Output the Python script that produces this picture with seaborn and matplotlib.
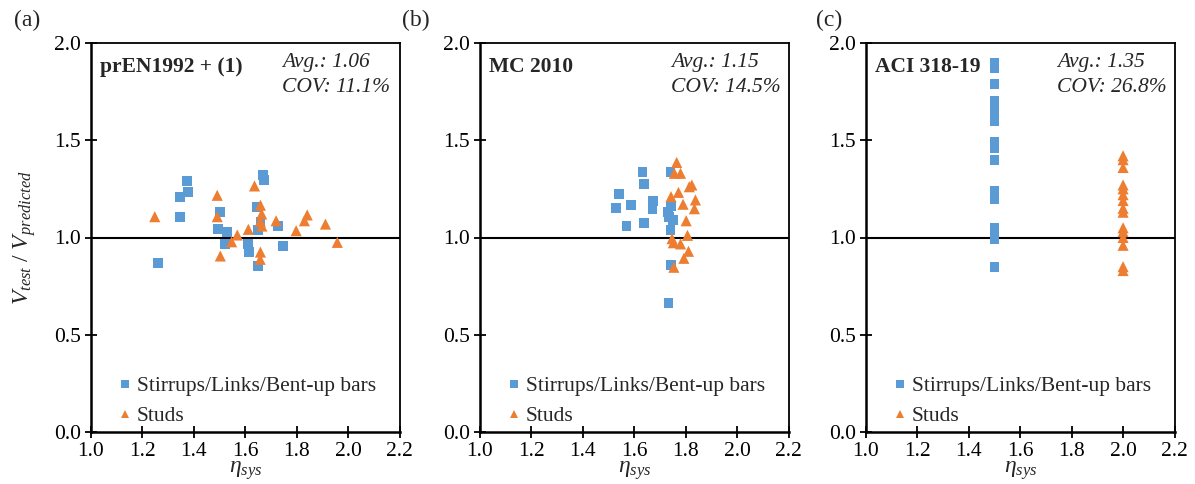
import numpy as np
import pandas as pd
import matplotlib
matplotlib.use("Agg")
import matplotlib.pyplot as plt
import seaborn as sns

# ---- data -------------------------------------------------------------
labels_type = ["Stirrups/Links/Bent-up bars", "Studs"]

# (a) prEN1992 + (1)
a_stir_eta = [1.373, 1.378, 1.347, 1.347, 1.260, 1.670, 1.672, 1.502, 1.495, 1.530,
              1.522, 1.612, 1.615, 1.650, 1.645, 1.659, 1.648, 1.726, 1.747]
a_stir_ratio = [1.292, 1.235, 1.207, 1.105, 0.867, 1.321, 1.296, 1.133, 1.045, 1.030,
                0.967, 0.967, 0.925, 0.853, 1.155, 1.081, 1.037, 1.059, 0.958]
a_stud_eta = [1.248, 1.491, 1.491, 1.503, 1.547, 1.569, 1.612, 1.636, 1.659, 1.664,
              1.658, 1.665, 1.659, 1.658, 1.720, 1.798, 1.830, 1.841, 1.912, 1.958]
a_stud_ratio = [1.107, 1.217, 1.107, 0.905, 0.978, 1.013, 1.042, 1.265, 1.166, 1.121,
                1.083, 1.059, 0.925, 0.888, 1.086, 1.035, 1.086, 1.116, 1.069, 0.975]

# (b) MC 2010
b_stir_eta = [1.632, 1.639, 1.542, 1.529, 1.587, 1.570, 1.639, 1.674, 1.671, 1.741,
              1.743, 1.732, 1.736, 1.750, 1.741, 1.743, 1.733]
b_stir_ratio = [1.338, 1.277, 1.222, 1.152, 1.166, 1.059, 1.075, 1.189, 1.145, 1.338,
                1.162, 1.133, 1.107, 1.090, 1.039, 0.860, 0.665]
b_stud_eta = [1.765, 1.756, 1.780, 1.814, 1.824, 1.772, 1.743, 1.838, 1.790, 1.834,
              1.802, 1.807, 1.747, 1.752, 1.780, 1.811, 1.793, 1.754]
b_stud_ratio = [1.386, 1.330, 1.330, 1.261, 1.270, 1.232, 1.210, 1.193, 1.171, 1.148,
                1.086, 1.011, 0.994, 0.973, 0.967, 0.929, 0.893, 0.847]

# (c) ACI 318-19
c_stir_ratio = [1.90, 1.87, 1.79, 1.70, 1.66, 1.62, 1.60, 1.49, 1.46, 1.40,
                1.24, 1.20, 1.05, 1.03, 0.99, 0.85]
c_stir_eta = [1.5] * len(c_stir_ratio)
c_stud_ratio = [1.42, 1.40, 1.36, 1.27, 1.25, 1.22, 1.19, 1.15, 1.13, 1.05,
                1.03, 1.00, 0.96, 0.85, 0.83]
c_stud_eta = [2.0] * len(c_stud_ratio)

panel_tags = ["(a)", "(b)", "(c)"]
model_names = ["prEN1992 + (1)", "MC 2010", "ACI 318-19"]
avg_vals = ["1.06", "1.15", "1.35"]
cov_vals = ["11.1%", "14.5%", "26.8%"]

x_ticks = [1.0, 1.2, 1.4, 1.6, 1.8, 2.0, 2.2]
y_ticks = [0.0, 0.5, 1.0, 1.5, 2.0]

# ---- style ------------------------------------------------------------
sns.set_theme(style="white")
plt.rcParams["font.family"] = ["Liberation Serif", "DejaVu Serif"]
plt.rcParams["mathtext.fontset"] = "custom"
plt.rcParams["mathtext.rm"] = "Liberation Serif"
plt.rcParams["mathtext.it"] = "Liberation Serif:italic"
plt.rcParams["mathtext.bf"] = "Liberation Serif:bold"

palette = {labels_type[0]: "#5B9BD5", labels_type[1]: "#ED7D31"}
markers = {labels_type[0]: "s", labels_type[1]: "^"}
sizes = {labels_type[0]: 50, labels_type[1]: 64}


def frame(stir_eta, stir_ratio, stud_eta, stud_ratio):
    return pd.DataFrame({
        "eta": list(stir_eta) + list(stud_eta),
        "ratio": list(stir_ratio) + list(stud_ratio),
        "type": [labels_type[0]] * len(stir_eta) + [labels_type[1]] * len(stud_eta),
    })


frames = [
    frame(a_stir_eta, a_stir_ratio, a_stud_eta, a_stud_ratio),
    frame(b_stir_eta, b_stir_ratio, b_stud_eta, b_stud_ratio),
    frame(c_stir_eta, c_stir_ratio, c_stud_eta, c_stud_ratio),
]

fig = plt.figure(figsize=(11.95, 4.84), dpi=100)
lefts = [91 / 1195, 480 / 1195, 866 / 1195]
tag_x = [0.012, 0.336, 0.683]
bottom, width, height = 52 / 484, 308.5 / 1195, 389 / 484

FS = 15.5
for i, df in enumerate(frames):
    ax = fig.add_axes([lefts[i], bottom, width, height])
    ax.axhline(1.0, color="black", lw=1.5, zorder=1)
    sns.scatterplot(data=df, x="eta", y="ratio", hue="type", style="type",
                    size="type", sizes=sizes, markers=markers, palette=palette,
                    hue_order=labels_type, style_order=labels_type,
                    size_order=labels_type,
                    edgecolor="none", linewidth=0, alpha=1, ax=ax, zorder=3,
                    legend=True)
    ax.set_xlim(1.0, 2.2)
    ax.set_ylim(0.0, 2.0)
    ax.set_xticks(x_ticks)
    ax.set_yticks(y_ticks)
    ax.set_xticklabels([f"{v:.1f}" for v in x_ticks])
    ax.set_yticklabels([f"{v:.1f}" for v in y_ticks])
    ax.tick_params(axis="both", direction="inout", length=8, width=1.3,
                   colors="black", labelsize=FS, bottom=True, left=True, pad=3)
    for side, sp in ax.spines.items():
        sp.set_visible(True)
        sp.set_color("black")
        sp.set_linewidth(1.3 if side in ("top", "right") else 1.8)
    ax.set_xlabel(r"$\eta_{sys}$", fontsize=FS + 1.5, labelpad=-1)
    if i == 0:
        ax.set_ylabel(r"$V_{test}\ /\ V_{predicted}$", fontsize=FS + 1.5, labelpad=12)
    else:
        ax.set_ylabel("")

    ax.text(0.03, 0.938, model_names[i], transform=ax.transAxes,
            fontsize=FS, fontweight="bold", ha="left", va="center")
    ax.text(0.62, 0.949, f"Avg.: {avg_vals[i]}", transform=ax.transAxes,
            fontsize=FS, style="italic", ha="left", va="center")
    ax.text(0.62, 0.885, f"COV: {cov_vals[i]}", transform=ax.transAxes,
            fontsize=FS, style="italic", ha="left", va="center")

    handles, labs = ax.get_legend_handles_labels()
    keep = [(h, l) for h, l in zip(handles, labs) if l in labels_type]
    ax.legend([h for h, _ in keep], [l for _, l in keep], loc="lower left",
              bbox_to_anchor=(0.03, -0.018), frameon=False, fontsize=FS,
              handletextpad=0.0, handlelength=1.1, labelspacing=0.45,
              borderaxespad=0.2, markerscale=0.75)

    fig.text(tag_x[i], 0.958, panel_tags[i], fontsize=FS + 1.5,
             ha="left", va="center")

fig.savefig("out.png", dpi=100)
